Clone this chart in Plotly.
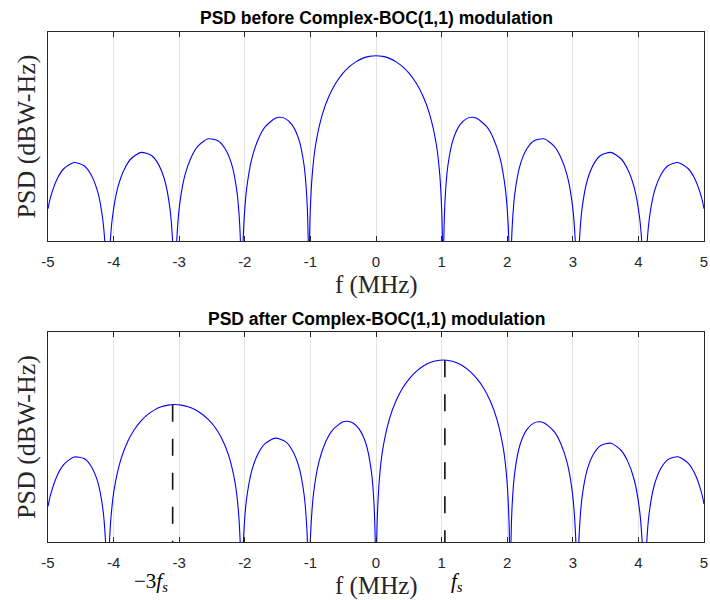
import plotly.graph_objects as go

# ---------------- data ----------------
# Top panel: PSD before Complex-BOC(1,1) modulation (dBW-Hz vs MHz)
top_f = [
    -5.000, -4.962, -4.859, -4.757, -4.604, -4.450, -4.348, -4.245, -4.164, -4.123, -4.102, -4.092,
    -4.082, -4.061, -4.020, -3.939, -3.836, -3.734, -3.581, -3.427, -3.325, -3.222, -3.141, -3.100, -3.079, -3.069,
    -3.059, -3.038, -2.997, -2.916, -2.813, -2.711, -2.558, -2.404, -2.302, -2.199, -2.118, -2.077, -2.056, -2.046,
    -2.036, -2.015, -1.974, -1.893, -1.790, -1.688, -1.535, -1.463, -1.381, -1.279, -1.176, -1.095, -1.054, -1.033, -1.023,
    -1.013, -1.003, -0.972, -0.921, -0.818, -0.716, -0.614, -0.512, -0.409, -0.307, -0.205, -0.102,
    0.000,
    0.102, 0.205, 0.307, 0.409, 0.512, 0.614, 0.716, 0.818, 0.921, 0.972, 1.003, 1.013,
    1.023, 1.033, 1.054, 1.095, 1.176, 1.279, 1.381, 1.463, 1.535, 1.688, 1.790, 1.893, 1.974, 2.015, 2.036,
    2.046, 2.056, 2.077, 2.118, 2.199, 2.302, 2.404, 2.558, 2.711, 2.813, 2.916, 2.997, 3.038, 3.059,
    3.069, 3.079, 3.100, 3.141, 3.222, 3.325, 3.427, 3.581, 3.734, 3.836, 3.939, 4.020, 4.061, 4.082,
    4.092, 4.102, 4.123, 4.164, 4.245, 4.348, 4.450, 4.604, 4.757, 4.859, 4.962, 5.000,
]
top_psd = [
    -93.05, -90.62, -86.59, -84.39, -83.11, -83.81, -85.62, -89.27, -95.47, -102.68, -112.17, -130.0,
    -112.12, -102.55, -95.16, -88.61, -84.53, -82.29, -80.92, -81.54, -83.29, -86.87, -93.02, -100.20, -109.67, -130.0,
    -109.62, -100.03, -92.61, -86.00, -81.84, -79.51, -78.00, -78.46, -80.10, -83.55, -89.59, -96.72, -106.17, -130.0,
    -106.08, -96.46, -88.98, -82.25, -77.91, -75.39, -73.57, -73.36, -73.65, -74.99, -78.12, -83.86, -90.83, -100.19, -130.0,
    -100.01, -93.91, -85.71, -79.33, -72.72, -68.79, -66.04, -64.02, -62.52, -61.43, -60.68, -60.24,
    -60.10,
    -60.24, -60.68, -61.43, -62.52, -64.02, -66.04, -68.79, -72.72, -79.33, -85.71, -93.91, -100.01,
    -130.0, -100.19, -90.83, -83.86, -78.12, -74.99, -73.65, -73.36, -73.57, -75.39, -77.91, -82.25, -88.98, -96.46, -106.08,
    -130.0, -106.17, -96.72, -89.59, -83.55, -80.10, -78.46, -78.00, -79.51, -81.84, -86.00, -92.61, -100.03, -109.62,
    -130.0, -109.67, -100.20, -93.02, -86.87, -83.29, -81.54, -80.92, -82.29, -84.53, -88.61, -95.16, -102.55, -112.12,
    -130.0, -112.17, -102.68, -95.47, -89.27, -85.62, -83.81, -83.11, -84.39, -86.59, -90.62, -93.05,
]

# Bottom panel: PSD after Complex-BOC(1,1) modulation
bot_f = [
    -5.000, -4.962, -4.859, -4.757, -4.604, -4.450, -4.348, -4.245, -4.164, -4.123, -4.102, -4.092,
    -4.082, -4.072, -4.041, -3.990, -3.887, -3.785, -3.683, -3.581, -3.478, -3.376, -3.274, -3.171, -3.069,
    -2.967, -2.864, -2.762, -2.660, -2.558, -2.455, -2.353, -2.251, -2.148, -2.097, -2.066, -2.056, -2.046,
    -2.036, -2.015, -1.974, -1.893, -1.790, -1.688, -1.535, -1.381, -1.279, -1.176, -1.095, -1.054, -1.033, -1.023,
    -1.013, -0.992, -0.951, -0.870, -0.767, -0.665, -0.512, -0.440, -0.358, -0.256, -0.153, -0.072, -0.031, -0.010,
    0.000,
    0.010, 0.020, 0.051, 0.102, 0.205, 0.307, 0.409, 0.512, 0.614, 0.716, 0.818, 0.921, 1.023,
    1.125, 1.228, 1.330, 1.432, 1.535, 1.637, 1.739, 1.841, 1.944, 1.995, 2.026, 2.036, 2.046,
    2.056, 2.077, 2.118, 2.199, 2.302, 2.404, 2.486, 2.558, 2.711, 2.813, 2.916, 2.997, 3.038, 3.059, 3.069,
    3.079, 3.100, 3.141, 3.222, 3.325, 3.427, 3.581, 3.734, 3.836, 3.939, 4.020, 4.061, 4.082, 4.092,
    4.102, 4.123, 4.164, 4.245, 4.348, 4.450, 4.604, 4.757, 4.859, 4.962, 5.000,
]
bot_psd = [
    -92.39, -89.91, -85.73, -83.37, -81.79, -82.13, -83.65, -86.96, -92.85, -99.89, -109.29, -130.0,
    -109.15, -103.07, -94.92, -88.63, -82.20, -78.45, -75.88, -74.02, -72.66, -71.69, -71.04, -70.67, -70.55,
    -70.67, -71.03, -71.63, -72.52, -73.74, -75.42, -77.76, -81.23, -87.33, -93.44, -101.47, -107.51, -130.0,
    -107.57, -98.09, -90.89, -84.65, -80.88, -78.87, -77.74, -78.49, -80.27, -83.85, -89.98, -97.15, -106.61, -130.0,
    -106.54, -96.94, -89.49, -82.81, -78.54, -76.07, -74.30, -74.12, -74.43, -75.80, -78.95, -84.70, -91.68, -101.04,
    -130.0,
    -100.87, -94.77, -86.57, -80.20, -73.60, -69.67, -66.94, -64.92, -63.43, -62.33, -61.59, -61.15, -61.01,
    -61.15, -61.59, -62.33, -63.43, -64.93, -66.95, -69.68, -73.62, -80.22, -86.60, -94.80, -100.91, -130.0,
    -101.08, -91.72, -84.75, -79.00, -75.87, -74.53, -74.23, -74.44, -76.26, -78.78, -83.11, -89.84, -97.32, -106.93, -130.0,
    -107.02, -97.58, -90.44, -84.40, -80.94, -79.31, -78.84, -80.34, -82.67, -86.82, -93.43, -100.85, -110.44, -130.0,
    -110.49, -101.02, -93.83, -87.68, -84.10, -82.35, -81.73, -83.09, -85.33, -89.41, -91.85,
]

# Dashed markers at the sub-carrier harmonics (-3 fs and fs)
marker_f = [-3.10, 1.05]
marker_top = [-70.60, -61.05]
marker_labels = ["\u22123<i>f</i><sub><i>s</i></sub>", "<i>f</i><sub><i>s</i></sub>"]

tick_vals = [-5, -4, -3, -2, -1, 0, 1, 2, 3, 4, 5]
tick_text = ["-5", "-4", "-3", "-2", "-1", "0", "1", "2", "3", "4", "5"]
titles = ["PSD before Complex-BOC(1,1) modulation", "PSD after Complex-BOC(1,1) modulation"]
x_label = "f (MHz)"
y_label = "PSD (dBW-Hz)"
y_range = [-100, -55]

# ---------------- figure ----------------
W, H = 710, 600
ML, MR, MT, MB = 48, 6, 32, 58
plot_h = H - MT - MB
def py(p):  # pixel row -> paper y
    return (H - MB - p) / plot_h
def px(p):  # pixel col -> paper x
    return (p - ML) / (W - ML - MR)

AX = "#262626"
GRID = "#e3e3e3"
BLUE = "#0000ff"
SERIF = "Liberation Serif, Times New Roman, serif"
SANS = "Liberation Sans, Arial, sans-serif"

fig = go.Figure()
fig.add_trace(go.Scatter(x=top_f, y=top_psd, mode="lines",
                         line=dict(color=BLUE, width=1.1, shape="spline", smoothing=0.7),
                         xaxis="x", yaxis="y", showlegend=False, hoverinfo="skip"))
fig.add_trace(go.Scatter(x=bot_f, y=bot_psd, mode="lines",
                         line=dict(color=BLUE, width=1.1, shape="spline", smoothing=0.7),
                         xaxis="x2", yaxis="y2", showlegend=False, hoverinfo="skip"))
for mf, mt in zip(marker_f, marker_top):
    fig.add_trace(go.Scatter(x=[mf, mf], y=[mt, y_range[0]], mode="lines",
                             line=dict(color="#111111", width=1.6, dash="17px,17px"),
                             xaxis="x2", yaxis="y2", showlegend=False, hoverinfo="skip"))

xcommon = dict(range=[-5, 5], tickmode="array", tickvals=tick_vals, ticktext=tick_text,
               ticks="inside", ticklen=5, tickwidth=1, tickcolor=AX,
               showline=True, linecolor=AX, linewidth=1, mirror="ticks",
               showgrid=True, gridcolor=GRID, gridwidth=1, zeroline=False, automargin=False,
               tickfont=dict(family=SANS, size=15, color=AX), ticklabelstandoff=7)
ycommon = dict(range=y_range, showticklabels=False, ticks="", showline=True, linecolor=AX,
               linewidth=1, mirror=True, showgrid=False, zeroline=False, automargin=False)

top_lo = py(241)
bot_hi = py(332)
fig.update_layout(
    width=W, height=H, margin=dict(l=ML, r=MR, t=MT, b=MB, autoexpand=False),
    paper_bgcolor="white", plot_bgcolor="white",
    xaxis=dict(domain=[0, 1], anchor="y", **xcommon),
    yaxis=dict(domain=[top_lo, 1], anchor="x", **ycommon),
    xaxis2=dict(domain=[0, 1], anchor="y2", **xcommon),
    yaxis2=dict(domain=[0, bot_hi], anchor="x2", **ycommon),
)

ann = []
# titles
for t, yc in zip(titles, (17.5, 319)):
    ann.append(dict(text=t, x=0.5, y=py(yc), xref="paper", yref="paper", showarrow=False,
                    xanchor="center", yanchor="middle",
                    font=dict(family=SANS, size=17.5, color="black", weight="bold")))
# x labels
for yc in (285, 586):
    ann.append(dict(text=x_label, x=0.5, y=py(yc), xref="paper", yref="paper", showarrow=False,
                    xanchor="center", yanchor="middle", font=dict(family=SERIF, size=25, color=AX)))
# y labels
for yc in (136.5, 437):
    ann.append(dict(text=y_label, x=px(26), y=py(yc), xref="paper", yref="paper", showarrow=False,
                    textangle=-90, xanchor="center", yanchor="middle",
                    font=dict(family=SERIF, size=26, color=AX)))
# harmonic labels
ann.append(dict(text=marker_labels[0], x=marker_f[0], y=py(582), xref="x2", yref="paper",
                showarrow=False, xanchor="right", yanchor="middle", xshift=-3,
                font=dict(family=SERIF, size=21, color="black")))
ann.append(dict(text=marker_labels[1], x=marker_f[1], y=py(582), xref="x2", yref="paper",
                showarrow=False, xanchor="left", yanchor="middle", xshift=4,
                font=dict(family=SERIF, size=21, color="black")))
fig.update_layout(annotations=ann)

fig.write_html("out.html", config={"displayModeBar": False},
               post_script="document.body.style.margin='0';document.body.style.overflow='hidden';")
